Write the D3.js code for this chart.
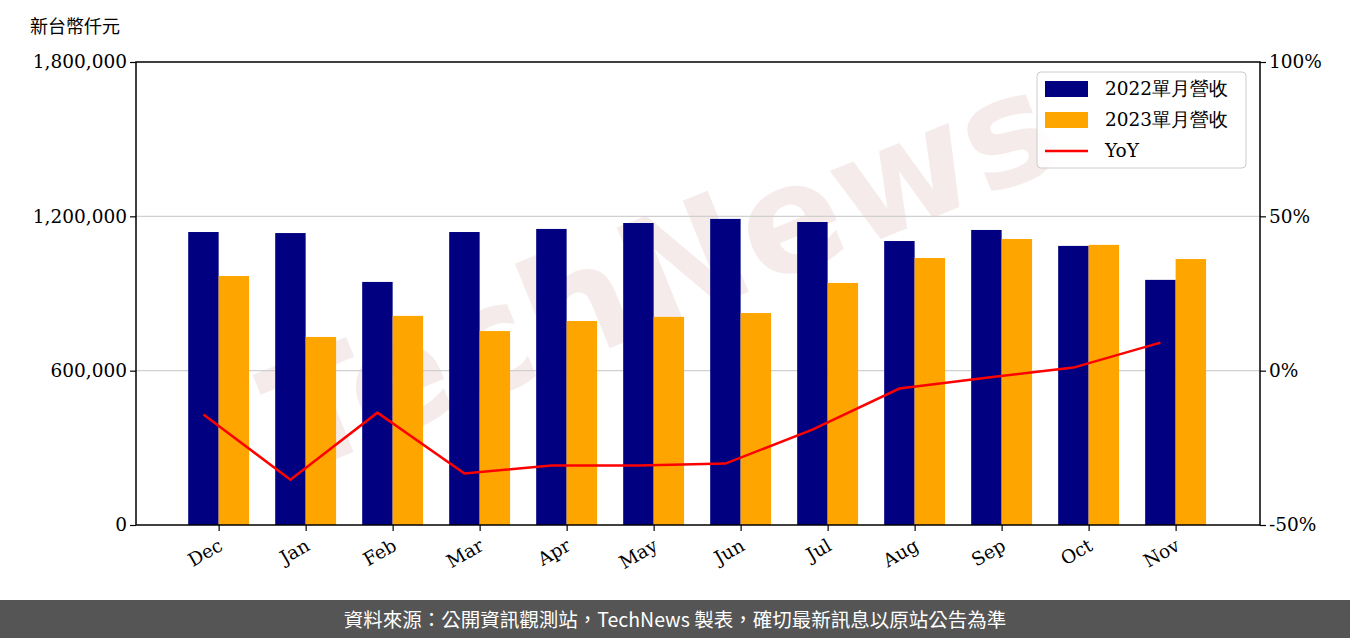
<!DOCTYPE html>
<html><head><meta charset="utf-8">
<script src="https://cdn.jsdelivr.net/npm/d3@7"></script>
<style>body{margin:0;background:#fff}svg{display:block}</style>
</head><body><svg id="c" width="1350" height="638"></svg>
<script>
const categories=["Dec","Jan","Feb","Mar","Apr","May","Jun","Jul","Aug","Sep","Oct","Nov"];
const rev2022=[1139000,1135000,945000,1139000,1151000,1174000,1190000,1178000,1104000,1147000,1085000,953000];
const rev2023=[968000,731000,813000,754000,793000,809000,824000,941000,1038000,1112000,1089000,1034000];
const yoy=[-14.2,-35.3,-13.6,-33.3,-30.7,-30.7,-30.1,-19.1,-5.8,-2.3,1.0,9.1];
const leftTicks=[0,600000,1200000,1800000];
const rightTicks=[-50,0,50,100];
const svg=d3.select("#c");
const L=136,R=1260,T=62,B=525;
const serif="DejaVu Serif";
const x=d3.scaleLinear().domain([-0.95,11.97]).range([L,R]);
const y=d3.scaleLinear().domain([0,1800000]).range([B,T]);
const y2=d3.scaleLinear().domain([-50,100]).range([B,T]);
const bw=x(0.35)-x(0);
svg.append("text").attr("transform","translate(680,320) rotate(-22)").attr("text-anchor","middle")
 .attr("font-family","DejaVu Sans").attr("font-weight","bold").attr("font-size",150)
 .attr("fill","#e8c8c8").attr("opacity",0.35).text("TechNews");
svg.selectAll(".g").data([600000,1200000]).enter().append("line")
 .attr("x1",L).attr("x2",R).attr("y1",d=>y(d)).attr("y2",d=>y(d)).attr("stroke","#d0d0d0").attr("stroke-width",1.2);
svg.selectAll(".b1").data(rev2022).enter().append("rect")
 .attr("x",(d,i)=>x(i)-bw).attr("width",bw).attr("y",d=>y(d)).attr("height",d=>B-y(d)).attr("fill","#000080");
svg.selectAll(".b2").data(rev2023).enter().append("rect")
 .attr("x",(d,i)=>x(i)).attr("width",bw).attr("y",d=>y(d)).attr("height",d=>B-y(d)).attr("fill","#ffa500");
svg.append("path").datum(yoy).attr("fill","none").attr("stroke","#ff0000").attr("stroke-width",2.5)
 .attr("d",d3.line().x((d,i)=>x(i)-bw/2).y(d=>y2(d)));
const ga=svg.append("g").attr("transform",`translate(${L},0)`).call(d3.axisLeft(y).tickValues(leftTicks).tickFormat(d3.format(",")).tickSizeOuter(0));
const gr=svg.append("g").attr("transform",`translate(${R},0)`).call(d3.axisRight(y2).tickValues(rightTicks).tickFormat(d=>d+"%").tickSizeOuter(0));
const gb=svg.append("g").attr("transform",`translate(0,${B})`).call(d3.axisBottom(x).tickValues(d3.range(12)).tickFormat(i=>categories[i]).tickSizeOuter(0));
gb.selectAll("text").attr("text-anchor","end").attr("transform","translate(-8,2) rotate(-30)").attr("dx","0em").attr("dy","0.9em");
[ga,gr,gb].forEach(g=>{g.selectAll("text").attr("font-family",serif).attr("font-size",18.5).attr("fill","#000");
 g.selectAll("line").attr("stroke","#000").attr("stroke-width",1.2);g.select(".domain").remove();});
svg.append("rect").attr("x",L).attr("y",T).attr("width",R-L).attr("height",B-T).attr("fill","none").attr("stroke","#000").attr("stroke-width",1.5);
svg.append("text").attr("x",30).attr("y",33).attr("font-family","Noto Sans CJK TC").attr("font-size",18).text("新台幣仟元");
const lg=svg.append("g").attr("transform","translate(1037,72)");
lg.append("rect").attr("width",209).attr("height",96).attr("rx",4).attr("fill","#fff").attr("fill-opacity",0.85).attr("stroke","#ccc");
const items=[["2022單月營收","#000080","r"],["2023單月營收","#ffa500","r"],["YoY","#ff0000","l"]];
items.forEach((it,i)=>{const yy=17+i*31;
 if(it[2]=="r")lg.append("rect").attr("x",8).attr("y",yy-8).attr("width",43).attr("height",16).attr("fill",it[1]);
 else lg.append("line").attr("x1",8).attr("x2",51).attr("y1",yy).attr("y2",yy).attr("stroke",it[1]).attr("stroke-width",2.5);
 lg.append("text").attr("x",68).attr("y",yy+6).attr("font-family",serif).attr("font-size",18.5).text(it[0]);});
svg.append("rect").attr("x",0).attr("y",600).attr("width",1350).attr("height",38).attr("fill","#555");
svg.append("text").attr("x",675).attr("y",627).attr("text-anchor","middle").attr("fill","#fff")
 .attr("font-family","Noto Sans CJK TC").attr("font-size",19.5).text("資料來源：公開資訊觀測站，TechNews 製表，確切最新訊息以原站公告為準");
</script></body></html>
